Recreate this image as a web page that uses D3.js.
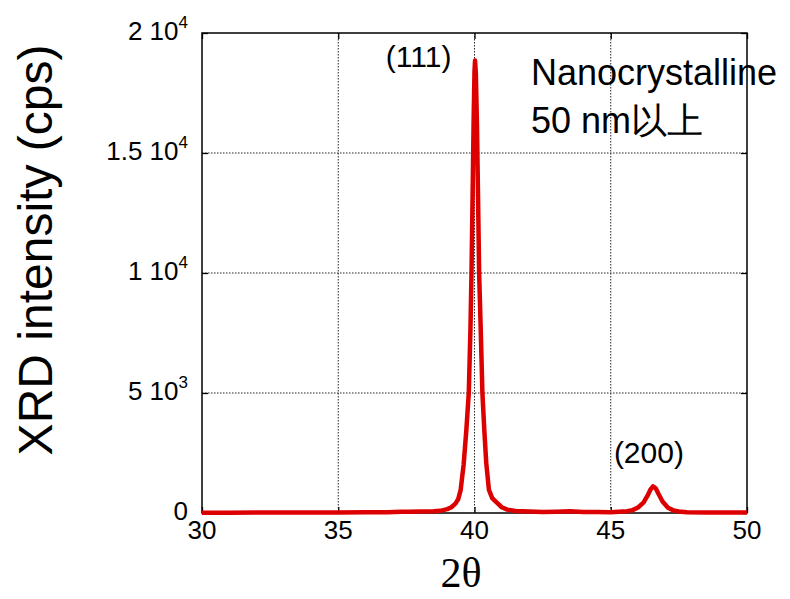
<!DOCTYPE html>
<html>
<head>
<meta charset="utf-8">
<script src="https://cdn.jsdelivr.net/npm/d3@7"></script>
<style>
  body { margin: 0; background: #fff; }
  svg { display: block; }
  text { font-family: "Liberation Sans", Arial, sans-serif; fill: #000; }
</style>
</head>
<body>
<svg id="chart" width="790" height="599"></svg>
<script>
// 2theta (deg) and intensity (cps)
const twoTheta = [30, 31, 32, 33, 34, 35, 36, 36.8, 37.3, 37.6, 38.0, 38.5, 38.75, 39.0, 39.15, 39.3, 39.4, 39.49, 39.6, 39.7, 39.79, 39.85, 39.89, 39.93, 39.97, 40.0, 40.02, 40.05, 40.09, 40.13, 40.17, 40.23, 40.29, 40.36, 40.43, 40.53, 40.65, 40.83, 41.0, 41.2, 41.5, 42.0, 42.5, 43.0, 43.5, 44.0, 44.5, 45.0, 45.3, 45.6, 45.8, 46.0, 46.2, 46.35, 46.45, 46.55, 46.65, 46.75, 46.9, 47.1, 47.3, 47.5, 47.8, 48.5, 49.2, 50];
const intensity = [15, 15, 20, 20, 25, 25, 30, 35, 55, 50, 60, 70, 90, 160, 240, 390, 570, 950, 2000, 3450, 5000, 7600, 10000, 13200, 16500, 18400, 18850, 18300, 16200, 13200, 10000, 7600, 5000, 3450, 2100, 960, 620, 420, 240, 140, 85, 60, 45, 55, 70, 45, 40, 35, 50, 70, 120, 230, 430, 720, 960, 1110, 1030, 800, 480, 220, 110, 60, 35, 25, 20, 20];

const xTicks = [30, 35, 40, 45, 50];
const yTicks = [0, 5000, 10000, 15000, 20000];
const yTickMant = ["0", "5", "1", "1.5", "2"];
const yTickExp = [null, "3", "4", "4", "4"];

const peakLabels = ["(111)", "(200)"];
const peakPos = [[37.95, 18600], [46.4, 2080]];

const data = twoTheta.map((t, i) => ({t: t, v: intensity[i]}));

const svg = d3.select("#chart");
const mLeft = 202, mRight = 747, mTop = 33, mBottom = 513;

const x = d3.scaleLinear().domain([30, 50]).range([mLeft, mRight]);
const y = d3.scaleLinear().domain([0, 20000]).range([mBottom, mTop]);

// grid
const grid = svg.append("g").attr("class", "grid")
    .attr("stroke", "#222").attr("stroke-width", 1).attr("stroke-dasharray", "1.5,1.5");
grid.selectAll("line.gx").data(xTicks.slice(1, -1)).join("line").attr("class", "gx")
    .attr("x1", d => x(d)).attr("x2", d => x(d)).attr("y1", mTop).attr("y2", mBottom);
grid.selectAll("line.gy").data(yTicks.slice(1, -1)).join("line").attr("class", "gy")
    .attr("x1", mLeft).attr("x2", mRight).attr("y1", d => y(d)).attr("y2", d => y(d));

// axes with inward ticks
const axisStyle = g => g.call(g => g.selectAll("text").remove()).call(g => g.select(".domain").remove())
    .selectAll("line").attr("stroke", "#000").attr("stroke-width", 1.3);
svg.append("g").attr("transform", `translate(0,${mBottom})`).call(d3.axisTop(x).tickValues(xTicks).tickSize(6)).call(axisStyle);
svg.append("g").attr("transform", `translate(0,${mTop})`).call(d3.axisBottom(x).tickValues(xTicks).tickSize(6)).call(axisStyle);
svg.append("g").attr("transform", `translate(${mLeft},0)`).call(d3.axisRight(y).tickValues(yTicks).tickSize(6)).call(axisStyle);
svg.append("g").attr("transform", `translate(${mRight},0)`).call(d3.axisLeft(y).tickValues(yTicks).tickSize(6)).call(axisStyle);

svg.append("rect").attr("x", mLeft).attr("y", mTop).attr("width", mRight - mLeft).attr("height", mBottom - mTop)
    .attr("fill", "none").attr("stroke", "#000").attr("stroke-width", 1.5);

// tick labels
svg.append("g").selectAll("text").data(xTicks).join("text")
    .attr("x", d => x(d)).attr("y", mBottom + 26)
    .attr("text-anchor", "middle").style("font-size", "26px").text(d => d);

const yl = svg.append("g").selectAll("text").data(yTicks).join("text")
    .attr("x", mLeft - 14).attr("y", d => y(d) + 7)
    .attr("text-anchor", "end").style("font-size", "26px");
yl.append("tspan").text((d, i) => yTickMant[i] + (yTickExp[i] ? " 10" : ""));
yl.append("tspan").attr("dy", -12).style("font-size", "17px").text((d, i) => yTickExp[i] || "");

// curve
const line = d3.line().x(d => x(d.t)).y(d => y(d.v));
svg.append("path").datum(data).attr("d", line)
    .attr("fill", "none").attr("stroke", "#dd0000").attr("stroke-width", 4.5).attr("stroke-linejoin", "round");

// labels
svg.append("g").selectAll("text").data(peakLabels).join("text")
    .attr("x", (d, i) => x(peakPos[i][0])).attr("y", (d, i) => y(peakPos[i][1]))
    .attr("text-anchor", "middle").style("font-size", "30px").text(d => d);

const note = svg.append("text").attr("x", 531).attr("y", 85).style("font-size", "36px");
note.append("tspan").attr("x", 531).text("Nanocrystalline");
note.append("tspan").attr("x", 531).attr("dy", 48).text("50 nm以上");

svg.append("text").attr("x", 461).attr("y", 587)
    .attr("text-anchor", "middle").style("font-family", "'Liberation Serif', 'Times New Roman', serif")
    .style("font-size", "42px").text("2θ");

svg.append("text").attr("transform", `translate(52,${(42 + 458) / 2}) rotate(-90)`)
    .attr("text-anchor", "middle").style("font-size", "48px").text("XRD intensity (cps)");
</script>
</body>
</html>
